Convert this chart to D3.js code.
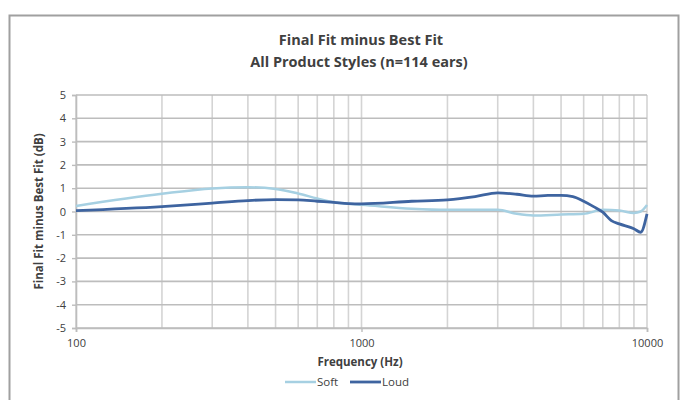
<!DOCTYPE html>
<html>
<head>
<meta charset="utf-8">
<script src="https://cdn.jsdelivr.net/npm/d3@7"></script>
<style>
  body { margin: 0; background: #fff; }
  text { font-family: "Open Sans", "Noto Sans", sans-serif; fill: #404040; }
</style>
</head>
<body>
<div id="chart"></div>
<script>
// values
var softFreq = [100, 200, 300, 400, 500, 600, 700, 800, 900, 1000, 1500, 2000, 3000, 3500, 4000, 5000, 6000, 7000, 8000, 9000, 9500, 10000];
var softVal  = [0.24, 0.76, 0.99, 1.04, 0.97, 0.77, 0.56, 0.40, 0.33, 0.29, 0.12, 0.07, 0.07, -0.10, -0.17, -0.13, -0.10, 0.07, 0.04, -0.06, 0.00, 0.28];

var loudFreq = [100, 200, 300, 400, 500, 600, 700, 800, 900, 1000, 1500, 2000, 2500, 3000, 3500, 4000, 4500, 5000, 5500, 6000, 6500, 7000, 7500, 8000, 9000, 9500, 10000];
var loudVal  = [0.04, 0.21, 0.36, 0.47, 0.51, 0.50, 0.44, 0.39, 0.34, 0.33, 0.44, 0.50, 0.64, 0.80, 0.74, 0.66, 0.69, 0.69, 0.64, 0.44, 0.21, -0.03, -0.39, -0.53, -0.74, -0.89, -0.10];

var yTicks = [-5, -4, -3, -2, -1, 0, 1, 2, 3, 4, 5];
var xLabels = [100, 1000, 10000];
var seriesNames = ["Soft", "Loud"];
var seriesColors = ["#a6d0e2", "#3e64a0"];

var width = 681, height = 400;
var svg = d3.select("#chart").append("svg")
    .attr("width", width)
    .attr("height", height);

// outer chart border
svg.append("rect")
    .attr("x", 9.5).attr("y", 15.5)
    .attr("width", 669).attr("height", 400)
    .attr("fill", "none")
    .attr("stroke", "#a0a0a0")
    .attr("stroke-width", 2);

var x = d3.scaleLog().domain([100, 10000]).range([76, 647]);
var y = d3.scaleLinear().domain([-5, 5]).range([328, 95]);

// vertical minor grid
var vGrid = [];
[100, 1000].forEach(function(dec) {
    for (var k = 1; k <= 9; k++) vGrid.push(dec * k);
});
vGrid.push(10000);

svg.append("g").selectAll("line")
    .data(vGrid).enter().append("line")
    .attr("x1", d => x(d)).attr("x2", d => x(d))
    .attr("y1", y(5)).attr("y2", y(-5))
    .attr("stroke", "#d4d4d4")
    .attr("stroke-width", 1.6);

// horizontal grid
svg.append("g").selectAll("line")
    .data(yTicks).enter().append("line")
    .attr("x1", x(100)).attr("x2", x(10000))
    .attr("y1", d => y(d)).attr("y2", d => y(d))
    .attr("stroke", "#bdbdbd")
    .attr("stroke-width", 1.6);

// axes (plain hyphen for negatives, like the original)
var yAxis = d3.axisLeft(y).tickValues(yTicks).tickSize(4).tickPadding(6).tickFormat(d => String(d));
var gy = svg.append("g").attr("transform", "translate(" + x(100) + ",0)").call(yAxis);
gy.select(".domain").attr("stroke", "#bdbdbd").attr("stroke-width", 1.6);
gy.selectAll(".tick line").attr("stroke", "#bdbdbd").attr("stroke-width", 1.4);
gy.selectAll(".tick text").style("font-size", "11px").attr("fill", "#404040");

var xAxis = d3.axisBottom(x).tickValues(xLabels).tickSize(4).tickPadding(7).tickFormat(d => String(d));
var gx = svg.append("g").attr("transform", "translate(0," + y(-5) + ")").call(xAxis);
gx.select(".domain").attr("stroke", "#bdbdbd").attr("stroke-width", 1.6);
gx.selectAll(".tick line").attr("stroke", "#bdbdbd").attr("stroke-width", 1.4);
gx.selectAll(".tick text").style("font-size", "11px").attr("fill", "#404040");

// lines
var line = d3.line()
    .x(d => x(d[0]))
    .y(d => y(d[1]))
    .curve(d3.curveMonotoneX);

var softData = d3.zip(softFreq, softVal);
var loudData = d3.zip(loudFreq, loudVal);

svg.append("path")
    .datum(softData)
    .attr("d", line)
    .attr("fill", "none")
    .attr("stroke", seriesColors[0])
    .attr("stroke-width", 2.5);

svg.append("path")
    .datum(loudData)
    .attr("d", line)
    .attr("fill", "none")
    .attr("stroke", seriesColors[1])
    .attr("stroke-width", 2.8);

// titles
svg.append("text")
    .attr("x", 361).attr("y", 45)
    .attr("text-anchor", "middle")
    .style("font-size", "14.5px").style("font-weight", "bold")
    .attr("fill", "#333")
    .text("Final Fit minus Best Fit");
svg.append("text")
    .attr("x", 359).attr("y", 67)
    .attr("text-anchor", "middle")
    .style("font-size", "14.5px").style("font-weight", "bold")
    .attr("fill", "#333")
    .text("All Product Styles (n=114 ears)");

// axis titles
svg.append("text")
    .attr("transform", "translate(43," + y(0) + ") rotate(-90)")
    .attr("text-anchor", "middle")
    .style("font-size", "11.5px").style("font-weight", "bold")
    .attr("fill", "#333")
    .text("Final Fit minus Best Fit (dB)");

svg.append("text")
    .attr("x", 360).attr("y", 366)
    .attr("text-anchor", "middle")
    .style("font-size", "11.5px").style("font-weight", "bold")
    .attr("fill", "#333")
    .text("Frequency (Hz)");

// legend
var legend = svg.append("g").attr("transform", "translate(285,382)");
var items = legend.selectAll("g")
    .data(seriesNames).enter().append("g")
    .attr("transform", (d, i) => "translate(" + (i * 65) + ",0)");
items.append("line")
    .attr("x1", 0).attr("x2", 31)
    .attr("y1", 0).attr("y2", 0)
    .attr("stroke", (d, i) => seriesColors[i])
    .attr("stroke-width", (d, i) => i == 0 ? 2.5 : 2.8);
items.append("text")
    .attr("x", 32).attr("y", 4)
    .style("font-size", "11.5px")
    .attr("fill", "#404040")
    .text(d => d);
</script>
</body>
</html>
